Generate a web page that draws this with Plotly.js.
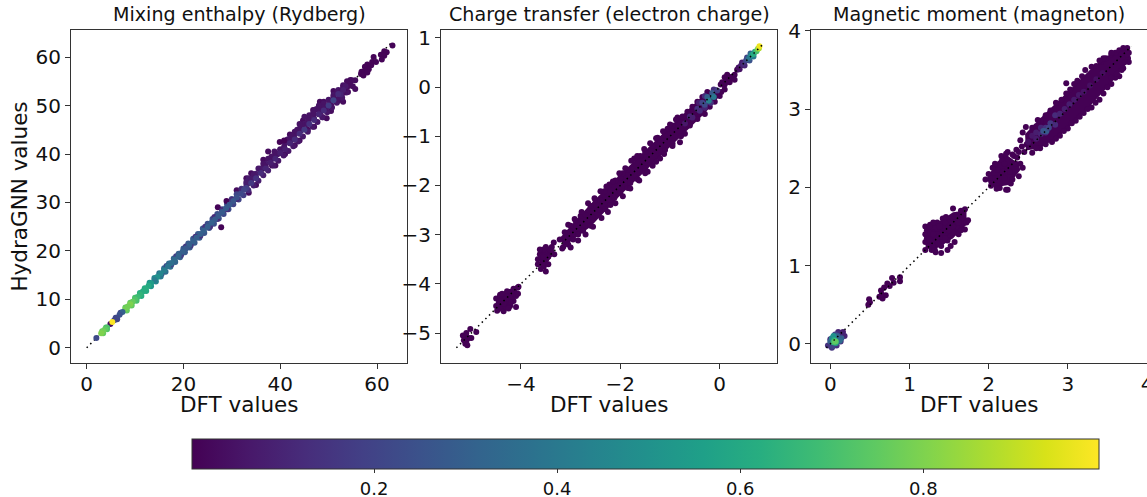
<!DOCTYPE html>
<html><head><meta charset="utf-8">
<script src="https://cdn.plot.ly/plotly-3.0.1.min.js"></script>
<style>html,body{margin:0;padding:0;background:#fff}</style></head>
<body><div id="chart" style="width:1147px;height:497px"></div>
<script>
const titles = ["Mixing enthalpy (Rydberg)", "Charge transfer (electron charge)", "Magnetic moment (magneton)"];
const xLabel = "DFT values";
const yLabel = "HydraGNN values";
const barTicks = [0.2, 0.4, 0.6, 0.8];

// Mixing enthalpy: DFT, predicted, density
const mixBumpX = [49.6,48.2,49,46.8,48.8,50.5,45.7,44.7,37.5,36.5,39,41,38.3,33.5,33,31,52,53,54,55.5,51,47,43,42,44,35,34];
const mixBumpY = [47.4,50.8,50.8,49.1,47.6,48.9,45,46.9,40.5,38.8,37.6,40,37.6,32,35,32.5,51,50.8,52.8,53.4,53,45.6,41.8,44,42.8,33.6,36];
const mixFlankX = [54.5,55,53,53.7,52,52.8,51,51.7,50,50.7,49,49.7,48,48.7,47,47.7,46,46.7,45,45.7,44,44.7,43,43.7,42,42.7,41,41.7,40,40.7,39,39.6,38,38.6,37,37.5,36,36.5,35,35.5,34,34.5,33,33.4,32,32.4,31,31.4,30,30.3,29,29.3,28,28.3,27,27.3,26,26.3,25,25.3,24,24.3,23,23.3,22,22.3,21,21.3,20,20.3,19,19.3,18,18.3,17,17.3,16,16.3,15,15.3,14,14.3,13,13.3,12,12.3,11,11.3,10,10.3,9,9.3,8,8.3,7,6.3,6,4,4.2,3.2,3.4];
const mixFlankY = [55.3,54,54.2,52.7,53.2,51.6,52.2,50.6,51.2,49.6,50.2,48.6,49.2,47.6,48.2,46.6,47.2,45.6,46.2,44.6,45.2,43.6,44.2,42.6,43.2,41.6,42.2,40.6,41,39.7,40,38.6,39,37.6,38,36.6,37,35.6,35.9,34.5,34.9,33.5,33.8,32.5,32.8,31.5,31.7,30.6,30.7,29.6,29.7,28.6,28.6,27.6,27.6,26.7,26.6,25.6,25.6,24.7,24.6,23.7,23.5,22.7,22.5,21.7,21.5,20.7,20.5,19.7,19.4,18.7,18.4,17.7,17.4,16.7,16.4,15.7,15.4,14.7,14.4,13.7,13.4,12.7,12.3,11.7,11.3,10.7,10.3,9.7,9.3,8.7,8.3,7.7,7.2,5.9,6.2,4.2,3.8,3.4,3];
const mixFlankD = [.03,.03,.05,.05,.06,.06,.06,.06,.06,.06,.06,.06,.06,.06,.06,.06,.06,.06,.06,.06,.06,.06,.06,.06,.06,.06,.06,.06,.06,.06,.06,.06,.06,.06,.08,.08,.08,.08,.08,.08,.08,.08,.1,.12,.16,.18,.2,.2,.2,.2,.22,.22,.22,.22,.24,.24,.24,.24,.24,.24,.26,.26,.28,.28,.28,.28,.28,.28,.28,.28,.3,.3,.32,.32,.35,.35,.35,.35,.38,.4,.45,.45,.52,.52,.6,.6,.62,.62,.7,.7,.75,.75,.75,.75,.2,.2,.2,.72,.72,.75,.75];
const mixX = [63.2,61.5,62,60.8,61.5,61,59.3,59,58.8,58,57.5,59.8,58.3,57.5,56.8,56.7,57.2,58,55.5,54.8,54.5,53.8,54,53.5,53,53,52.5,52.2,51.8,51.8,51,50.5,50.2,49.5,49,48.7,48.3,48,47.5,47,47,46.8,46,45.8,45.5,45,44.5,44,44.2,43.5,43,43,42.5,42,41.5,40.8,40,39.9,40.8,39.5,38.8,38.2,38,37.5,37,36.5,36,35.5,35,34.5,34,33.5,33,33,27.1,27.8,28.9,32,31,30,29,28,27,26.4,25.5,24.5,23.5,22.5,21.5,20.5,19.5,18.5,17.5,16.5,15.5,53.5,53,52.5,52,51,50,49,48,47,46,45,44,43,42,41,40,39,38,37,36,35,34,33,32.5,31.8,31,30.3,29.5,28.8,28,27.2,26.5,25.8,25,24.2,23.5,22.7,22,21.2,20.5,19.8,19,18.2,17.5,16.8,16,15.3,14.6,14,13.3,12.8,12.2,11.6,11,10.5,10,9.5,9,8.5,8,7.4,6.8,6.2,5.7,4.9,4.2,3.8,3.4,3,2,5.3];
const mixY = [62.4,61.2,61,60.5,60.3,59.5,60,59,58.3,58.5,58,59,57.5,57.2,57,56.5,56.2,56.8,55.2,55.2,54.2,55,54,53.6,53.8,52.6,53,52.2,52.8,51.3,51.8,50.2,51,49.5,50.4,49.6,48.6,50,49.3,49,47.3,48.4,48,47,46.2,47.7,46,46.2,44.8,45,44.6,43.2,43.8,42.5,43,41.5,40.8,42.5,42.8,40,40.5,39.5,38.4,39,37.4,38,36.2,37,35.2,35.8,34.2,35,33.2,34.2,29,24.9,30.3,32.6,30.7,30.5,28.6,28.4,26.6,27,25,25,23.1,22.9,21.1,20.9,19.1,18.9,17.2,16.9,15.3,54,53.2,52.3,52.4,51.1,50,49,48.2,47,46.2,45,44.2,43,42.2,41,40.2,39,38.2,37,36.1,35,34,33,32.6,31.8,31,30.3,29.5,28.8,28,27.2,26.5,25.8,25,24.2,23.5,22.7,22,21.2,20.5,19.8,19,18.2,17.5,16.8,16,15.3,14.6,14,13.3,12.8,12.2,11.6,11,10.5,10,9.5,9,8.5,8,7.4,6.8,6.2,5.7,4.9,4.2,3.8,3.4,3,2,5.3];
const mixD = [.01,.01,.01,.01,.01,.01,.01,.01,.01,.01,.01,.01,.01,.01,.01,.01,.01,.01,.03,.03,.03,.03,.03,.03,.04,.04,.04,.04,.05,.05,.05,.05,.05,.05,.05,.05,.05,.05,.05,.05,.05,.05,.05,.05,.05,.05,.05,.05,.05,.05,.05,.05,.05,.05,.05,.05,.05,.01,.01,.05,.05,.05,.05,.05,.05,.05,.06,.06,.06,.06,.07,.07,.07,.08,.01,.01,.01,.1,.1,.12,.12,.12,.12,.12,.14,.14,.14,.14,.16,.16,.18,.18,.2,.22,.25,.06,.08,.1,.12,.2,.17,.12,.1,.12,.14,.16,.12,.12,.1,.08,.08,.1,.08,.1,.12,.14,.16,.18,.2,.22,.24,.26,.27,.28,.28,.28,.28,.3,.3,.3,.3,.3,.3,.3,.28,.3,.32,.34,.36,.38,.42,.45,.5,.42,.55,.6,.62,.62,.65,.68,.72,.76,.8,.78,.78,.3,.25,.22,.2,.03,.72,.75,.78,.8,.22,1];

// Charge transfer: sparse edge points of the cloud
const chgEdgeX = [-3.22,-3.12,-3,-2.9,-2.8,-2.7,-2.6,-2.5,-2.4,-2.32,-2.22,-2.1,-2,-1.95,-1.85,-1.72,-1.6,-1.5,-1.35,-1.25,-1.1,-1.05,-.95,-.85,-.75,-.65,-.55,-.45,-.35,-.25,-3.15,-3.05,-2.95,-2.85,-2.75,-2.6,-2.55,-2.42,-2.3,-2.2,-2.12,-2,-1.85,-1.8,-1.65,-1.5,-1.5,-1.35,-1.2,-1.1,-.95,-.8,-.7,-.6,-.45,-.3,-.2,-.1,0,.03,-3.17,.05,.1,.15,.1,.2,.25,.3,.35,.3,.1,.02,-3.62,-3.66,-3.66,-3.6,-3.6,-3.55,-3.5,-3.5,-3.45,-3.42,-3.38,-3.34,-3.33,-3.55,-3.62,-3.5,-3.45,-3.4,-3.55,-4.5,-4.5,-4.48,-4.45,-4.42,-4.4,-4.35,-4.32,-4.3,-4.25,-4.22,-4.18,-4.15,-4.1,-4.07,-4.06,-4.05,-4.15,-4.2,-4.28,-4.35,-4.4,-4.42,-4.3,-4.25,-4.2,-4.1,-4.38,-5.17,-5.15,-5.12,-5.1,-5.08,-5.05,-5.02,-5,-5.1,-4.9,
 -3.05,-2.92,-2.78,-2.65,-2.52,-2.4,-2.28,-2.15,-2.02,-1.9,-1.78,-1.66,-1.52,-1.4,-1.28,-1.14,-1,-.88,-3,-2.85,-2.7,-2.55,-2.38,-2.25,-2.1,-1.95,-1.8,-1.62,-1.45,-1.28,-1.12,-.95,-.78];
const chgEdgeY = [-3.1,-2.95,-2.82,-2.72,-2.62,-2.6,-2.42,-2.3,-2.3,-2.12,-1.98,-1.9,-1.85,-1.75,-1.68,-1.45,-1.4,-1.32,-1.2,-1.03,-.98,-.85,-.78,-.62,-.6,-.5,-.4,-.3,-.2,-.1,-3.25,-3.2,-3.1,-3,-2.92,-2.82,-2.65,-2.5,-2.48,-2.4,-2.25,-2.15,-2.05,-1.95,-1.88,-1.75,-1.65,-1.6,-1.45,-1.28,-1.15,-1.12,-.95,-.78,-.65,-.55,-.4,-.3,-.18,-.1,-3.28,.1,.2,.25,.05,.1,.2,.25,.35,.15,-.05,.05,-3.4,-3.5,-3.6,-3.7,-3.45,-3.6,-3.75,-3.5,-3.6,-3.4,-3.25,-3.16,-3.4,-3.3,-3.3,-3.25,-3.45,-3.32,-3.45,-4.3,-4.45,-4.55,-4.4,-4.25,-4.5,-4.56,-4.35,-4.48,-4.3,-4.45,-4.2,-4.35,-4.25,-4.08,-4.2,-4.06,-4.1,-4.3,-4.15,-4.4,-4.35,-4.22,-4.25,-4.5,-4.38,-4.47,-4.2,-5.05,-5.15,-5.22,-5,-5.25,-5.1,-4.92,-5.1,-5.18,-4.98,
 -2.8,-2.68,-2.54,-2.36,-2.26,-2.12,-2.02,-1.92,-1.75,-1.65,-1.5,-1.4,-1.26,-1.14,-1.04,-.9,-.76,-.66,-3.26,-3.12,-3,-2.84,-2.66,-2.54,-2.36,-2.22,-2.06,-1.9,-1.72,-1.52,-1.36,-1.2,-1];
const chgX = [-.3,-.18,-.42,-.3,-.12,.4,.45,.5,.55,.6,.62,.68,-.7,-.6,-.55,-.45,-.4,-.35,-.3,-.25,-.22,-.15,-.12,-.05,.38,.43,.48,.53,.57,.6,.64,.68,.71,.74,.77,.79,.8];
const chgY = [-.18,-.32,-.32,-.42,-.05,.36,.5,.44,.6,.54,.68,.62,-.74,-.6,-.62,-.44,-.48,-.32,-.36,-.2,-.28,-.12,-.2,-.07,.4,.44,.47,.54,.57,.6,.65,.67,.72,.73,.78,.79,.83];
const chgD = [.12,.15,.08,.1,.12,.05,.08,.1,.2,.25,.3,.4,.06,.1,.08,.14,.12,.2,.22,.3,.42,.28,.4,.18,.04,.08,.12,.2,.3,.4,.5,.62,.55,.7,.8,.88,.97];
const chgBodyX = [-3.2,-2.6,-2,-1,-.3,-.05,0,-.3,-1,-2,-2.6,-3.15,null,-3.65,-3.55,-3.38,-3.33,-3.45,-3.5,-3.6,null,-4.5,-4.3,-4.08,-4.08,-4.25,-4.4,-4.5,null,-5.17,-5.08,-5.03,-5.12,null,.02,.12,.3,.35,.2,.08];
const chgBodyY = [-3.05,-2.38,-1.78,-.8,-.14,0,-.18,-.53,-1.22,-2.2,-2.84,-3.25,null,-3.42,-3.3,-3.2,-3.35,-3.55,-3.72,-3.68,null,-4.3,-4.12,-4.08,-4.25,-4.45,-4.54,-4.48,null,-5.08,-4.95,-5.08,-5.22,null,.03,.22,.3,.32,.1,-.05];
const chgLineX = [-5.3,.85];
const chgLineY = [-5.3,.85];

// Magnetic moment
const magEdgeX = [2.43,2.47,2.55,2.6,2.66,2.72,2.78,2.85,2.92,2.98,3.03,3.08,3.12,3.18,3.22,3.3,3.36,3.42,3.48,3.55,3.6,3.65,3.72,3.77,3.76,3.77,3.7,3.65,3.6,3.55,3.5,3.45,3.4,3.35,3.3,3.25,3.2,3.15,3.1,3.05,3,2.95,2.9,2.85,2.8,2.72,2.65,2.6,2.55,2.45,2.42,2.4,2.48,2.55,2.98,2.62,2.35,2.38,
 1.96,2,2.03,2.05,2.08,2.1,2.14,2.17,2.2,2.24,2.28,2.32,2.36,2.4,2.43,2.38,2.3,2.22,2.16,2.1,2.04,2.12,2.2,2.27,2.34,2.22,2.24,2.08,2.18,2.3,
 1.2,1.2,1.2,1.2,1.22,1.24,1.26,1.28,1.3,1.33,1.35,1.38,1.4,1.42,1.44,1.46,1.48,1.5,1.52,1.55,1.57,1.6,1.62,1.65,1.68,1.7,1.72,1.74,1.7,1.65,1.6,1.55,1.52,1.48,1.45,1.42,1.38,1.34,1.3,1.26,1.22,1.28,1.35,1.25,1.32,1.4,1.45,1.5,1.55,1.62,1.25,1.3,1.36,1.58,
 .62,.64,.66,.68,.7,.72,.65,.75,.78,.8,.88,.88,.49,.5,.48,
 3.7,3.75,3.68,3.75,3.72,3.68,3.62,3.55,3.55,3.45,3.4];
const magEdgeY = [2.7,2.77,2.76,2.78,2.85,2.92,2.98,3.08,3.12,3.2,3.25,3.32,3.36,3.42,3.5,3.54,3.55,3.6,3.65,3.7,3.72,3.75,3.76,3.72,3.65,3.6,3.52,3.42,3.4,3.32,3.28,3.2,3.12,3.08,3.02,3,2.95,2.9,2.85,2.82,2.75,2.72,2.66,2.62,2.58,2.55,2.5,2.5,2.44,2.45,2.52,2.6,2.55,2.65,3.33,2.86,2.48,2.45,
 2.1,2.17,2.02,2.25,2.3,2.02,1.99,2.35,2.3,2.45,2.05,2.4,2.38,2.3,2.25,2.14,2.1,1.97,2.4,1.98,2.12,2.22,2.12,2.2,2.3,2.43,1.97,2.12,2.2,2.42,
 1.5,1.4,1.3,1.2,1.45,1.25,1.52,1.2,1.42,1.17,1.55,1.3,1.16,1.6,1.45,1.62,1.2,1.55,1.38,1.73,1.3,1.65,1.4,1.7,1.6,1.72,1.55,1.58,1.46,1.45,1.5,1.42,1.25,1.32,1.55,1.48,1.5,1.35,1.55,1.42,1.35,1.3,1.4,1.5,1.2,1.25,1.35,1.45,1.5,1.55,1.33,1.4,1.28,1.62,
 .6,.68,.58,.72,.62,.77,.63,.74,.84,.78,.8,.85,.57,.53,.5,
 3.78,3.78,3.7,3.7,3.6,3.5,3.45,3.4,3.72,3.65,3.62];
const magX = [-.03,0,.05,.1,.16,.18,.13,.08,.02,2.5,2.55,2.6,2.6,2.66,2.66,2.72,2.72,2.78,2.84,2.84,2.9,2.96,3.02,3.08,3.14,3.2,3.28,3.36,3.44,2.69,2.73,2.76,
 .03,.1,.15,.14,.06,.0,.02,.09,.12,.04,.07,.05,.07,.04,.06];
const magY = [-.02,.06,.1,.15,.15,.1,.03,-.02,-.05,2.58,2.66,2.62,2.7,2.68,2.76,2.76,2.7,2.82,2.8,2.92,2.94,3,3.06,3.12,3.18,3.22,3.3,3.38,3.46,2.72,2.72,2.76,
 -.03,.13,.12,.07,.12,.03,.07,.1,.04,.1,.01,.05,.03,.02,.03];
const magD = [.14,.14,.12,.1,.08,.1,.12,.14,.15,.04,.06,.07,.08,.1,.1,.14,.13,.16,.12,.12,.1,.08,.08,.07,.06,.05,.04,.04,.03,.26,.28,.2,
 .2,.12,.1,.3,.2,.3,.45,.3,.35,.5,.55,.6,.7,.68,.75];
const magBodyX = [2.46,2.7,3,3.3,3.5,3.7,3.76,3.76,3.5,3.2,2.9,2.65,2.47,null,1.98,2.1,2.22,2.38,2.4,2.25,2.08,2,null,1.22,1.22,1.4,1.55,1.72,1.72,1.55,1.4,1.3];
const magBodyY = [2.68,2.93,3.22,3.52,3.68,3.76,3.74,3.6,3.28,2.95,2.66,2.5,2.47,null,2.12,2.32,2.42,2.3,2.22,2.03,2,2.05,null,1.25,1.5,1.58,1.68,1.7,1.52,1.35,1.25,1.2];
const magLineX = [-.05,3.8];
const magLineY = [-.05,3.8];

const mixLineX = [0,63];
const mixLineY = [0,63];

const W = 1147, H = 497;
const dom = (a, b, s) => [a / s, b / s];
const yDom = [1 - 363 / H, 1 - 30 / H];
const dots = (x, y, d, ax) => ({
  type: 'scatter', mode: 'markers', x, y, xaxis: 'x' + ax, yaxis: 'y' + ax, hoverinfo: 'skip', showlegend: false,
  marker: {size: 6, color: d, cmin: 0.001, cmax: 0.992, colorscale: 'Viridis', showscale: false, line: {width: 0}}
});
const body = (x, y, ax) => ({type: 'scatter', mode: 'lines', x, y, xaxis: 'x' + ax, yaxis: 'y' + ax, fill: 'toself',
  fillcolor: '#440154', line: {width: 0, color: '#440154'}, hoverinfo: 'skip', showlegend: false});
const diag = (x, y, ax) => ({type: 'scatter', mode: 'lines', x, y, xaxis: 'x' + ax, yaxis: 'y' + ax, hoverinfo: 'skip', showlegend: false,
  line: {color: '#000', width: 1.5, dash: '1.5px,3.6px'}});
const dark = n => new Array(n).fill(0.001);

const mainDots = dots(mixX, mixY, mixD, '');
const traces = [
  diag(mixLineX, mixLineY, ''),
  dots(mixBumpX, mixBumpY, mixBumpX.map(() => 0.03), ''),
  dots(mixFlankX, mixFlankY, mixFlankD, ''),
  mainDots,
  body(chgBodyX, chgBodyY, '2'),
  dots(chgEdgeX, chgEdgeY, dark(chgEdgeX.length), '2'),
  dots(chgX, chgY, chgD, '2'),
  diag(chgLineX, chgLineY, '2'),
  body(magBodyX, magBodyY, '3'),
  dots(magEdgeX, magEdgeY, dark(magEdgeX.length), '3'),
  dots(magX, magY, magD, '3'),
  diag(magLineX, magLineY, '3')
];
mainDots.marker.showscale = true;
mainDots.marker.colorbar = {
  orientation: 'h', xref: 'container', yref: 'container', x: 645.5 / W, xanchor: 'center', y: 1 - 439 / H, yanchor: 'top',
  lenmode: 'pixels', len: 907, thicknessmode: 'pixels', thickness: 30, xpad: 0, ypad: 0,
  outlinecolor: '#333', outlinewidth: 1, tickvals: barTicks, ticktext: barTicks.map(v => v.toFixed(1)),
  ticks: 'outside', ticklen: 4, tickwidth: 1, tickcolor: '#333',
  tickfont: {family: 'DejaVu Sans', size: 18, color: '#111'}
};

const fnt = {family: 'DejaVu Sans', size: 20, color: '#111'};
const axis = (extra) => Object.assign({
  showgrid: false, zeroline: false, showline: true, mirror: true, linecolor: '#333', linewidth: 1,
  ticks: 'outside', ticklen: 5, tickwidth: 1, tickcolor: '#333', tickfont: fnt, tickmode: 'array', automargin: false, ticklabeloverflow: 'allow'
}, extra);
const big = {family: 'DejaVu Sans', size: 21.5, color: '#111'};

const layout = {
  width: W, height: H, paper_bgcolor: '#fff', plot_bgcolor: '#fff', showlegend: false,
  margin: {l: 0, r: 0, t: 0, b: 0, autoexpand: false},
  xaxis: axis({domain: dom(71, 407, W), range: [-3.24, 66.2], tickvals: [0, 20, 40, 60], ticklabelstandoff: -2}),
  yaxis: axis({domain: yDom, range: [-3.15, 65.6], tickvals: [0, 10, 20, 30, 40, 50, 60], title: {text: yLabel, font: big, standoff: 2}}),
  xaxis2: axis({domain: dom(441, 777, W), anchor: 'y2', range: [-5.61, 1.153], tickvals: [-4, -2, 0], ticklabelstandoff: -2}),
  yaxis2: axis({domain: yDom, anchor: 'x2', range: [-5.61, 1.16], tickvals: [-5, -4, -3, -2, -1, 0, 1]}),
  xaxis3: axis({domain: dom(811, 1147, W), anchor: 'y3', range: [-.244, 4.0], tickvals: [0, 1, 2, 3, 4], ticklabelstandoff: -2}),
  yaxis3: axis({domain: yDom, anchor: 'x3', range: [-.245, 4.01], tickvals: [0, 1, 2, 3, 4]}),
  annotations: titles.map((t, i) => ({
    text: t, xref: 'paper', yref: 'paper', showarrow: false, xanchor: 'center', yanchor: 'bottom',
    x: [239, 609, 979][i] / W, y: 1 - 28 / H, font: {family: 'DejaVu Sans', size: 19.1, color: '#111'}
  })).concat([239, 609, 979].map(c => ({
    text: xLabel, xref: 'paper', yref: 'paper', showarrow: false, xanchor: 'center', yanchor: 'middle',
    x: c / W, y: 1 - 404 / H, font: big
  })))
};
Plotly.newPlot('chart', traces, layout, {displayModeBar: false, staticPlot: true});
</script></body></html>
